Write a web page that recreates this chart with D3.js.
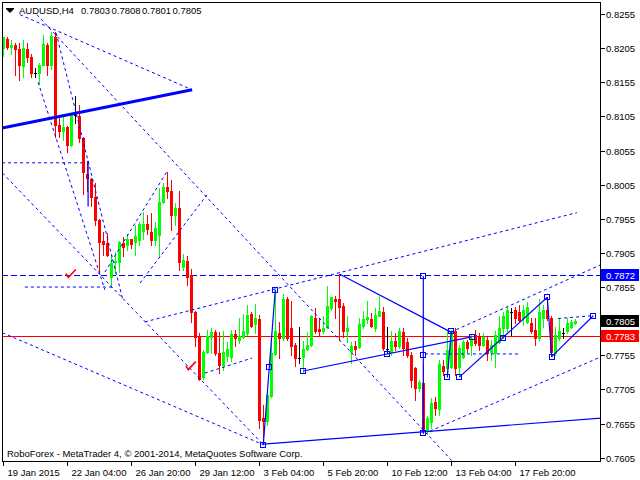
<!DOCTYPE html>
<html><head><meta charset="utf-8">
<script src="https://cdn.jsdelivr.net/npm/d3@7"></script>
<style>body{margin:0;background:#fff}svg{display:block}text{font-family:"Liberation Sans",Arial,sans-serif;white-space:pre}</style>
</head><body>
<svg id="c" width="640" height="480"></svg>
<script>
const openP=[.8205,.8219,.8206,.8210,.8204,.8179,.8204,.8192,.8169,.8169,.8181,.8210,.8180,.8222,.8092,.8083,.8090,.8063,.8107,.8106,.8074,.8020,.8014,.7987,.7953,.7922,.7919,.7870,.7891,.7892,.7919,.7916,.7925,.7921,.7924,.7937,.7947,.7935,.7924,.7931,.7980,.8002,.7996,.7960,.7971,.7885,.7893,.7873,.7818,.7784,.7723,.7760,.7782,.7789,.7759,.7741,.7754,.7753,.7786,.7778,.7782,.7787,.7815,.7801,.7808,.7663,.7659,.7695,.7757,.7788,.7781,.7838,.7795,.7770,.7751,.7752,.7764,.7770,.7809,.7793,.7790,.7796,.7825,.7838,.7838,.7827,.7791,.7760,.7769,.7767,.7798,.7808,.7808,.7795,.7813,.7818,.7764,.7760,.7776,.7768,.7789,.7775,.7756,.7736,.7707,.7714,.7646,.7658,.7687,.7677,.7739,.7736,.7738,.7790,.7738,.7753,.7774,.7770,.7785,.7782,.7770,.7777,.7760,.7758,.7775,.7795,.7795,.7819,.7821,.7819,.7809,.7804,.7802,.7792,.7780,.7809,.7821,.7809,.7758,.7780,.7787,.7790,.7797,.7803];
const highP=[.8222,.8222,.8217,.8212,.8212,.8217,.8212,.8197,.8176,.8183,.8224,.8212,.8229,.8229,.8105,.8107,.8091,.8110,.8135,.8122,.8075,.8039,.8015,.8007,.7954,.7936,.7934,.7903,.7907,.7923,.7929,.7932,.7926,.7946,.7951,.7965,.7961,.7963,.7951,.8000,.8007,.8024,.8012,.7978,.7996,.7904,.7900,.7881,.7820,.7788,.7763,.7792,.7795,.7792,.7789,.7790,.7775,.7792,.7792,.7809,.7816,.7829,.7819,.7830,.7814,.7682,.7699,.7773,.7851,.7804,.7845,.7840,.7835,.7773,.7797,.7776,.7789,.7814,.7824,.7808,.7813,.7857,.7841,.7842,.7874,.7831,.7812,.7775,.7776,.7809,.7820,.7834,.7817,.7825,.7842,.7826,.7797,.7790,.7787,.7795,.7795,.7780,.7760,.7738,.7719,.7741,.7666,.7692,.7694,.7748,.7748,.7792,.7792,.7795,.7770,.7777,.7777,.7785,.7792,.7787,.7787,.7782,.7777,.7790,.7812,.7819,.7826,.7824,.7826,.7829,.7829,.7833,.7809,.7809,.7838,.7829,.7840,.7812,.7797,.7809,.7795,.7809,.7807,.7808];
const lowP=[.8194,.8204,.8197,.8166,.8158,.8163,.8185,.8163,.8162,.8152,.8180,.8165,.8175,.8075,.8075,.8070,.8053,.8062,.8095,.8067,.7992,.7995,.7973,.7946,.7875,.7902,.7901,.7855,.7875,.7877,.7900,.7909,.7912,.7902,.7917,.7926,.7932,.7917,.7917,.7900,.7978,.7985,.7939,.7946,.7880,.7880,.7858,.7804,.7769,.7719,.7721,.7759,.7759,.7755,.7729,.7733,.7747,.7746,.7768,.7773,.7780,.7785,.7797,.7787,.7648,.7625,.7653,.7694,.7755,.7751,.7777,.7777,.7755,.7739,.7743,.7731,.7763,.7769,.7787,.7785,.7787,.7795,.7821,.7809,.7777,.7782,.7775,.7743,.7755,.7765,.7795,.7802,.7797,.7790,.7812,.7763,.7758,.7755,.7763,.7765,.7755,.7753,.7709,.7690,.7702,.7641,.7640,.7648,.7668,.7668,.7726,.7723,.7737,.7726,.7724,.7751,.7760,.7755,.7770,.7763,.7768,.7748,.7748,.7738,.7773,.7780,.7790,.7785,.7802,.7804,.7800,.7802,.7787,.7770,.7777,.7797,.7807,.7754,.7755,.7777,.7780,.7787,.7795,.7801];
const closeP=[.8221,.8206,.8210,.8204,.8180,.8205,.8192,.8169,.8169,.8181,.8211,.8181,.8223,.8092,.8083,.8090,.8063,.8107,.8107,.8074,.8024,.8015,.7987,.7953,.7921,.7918,.7902,.7890,.7893,.7921,.7914,.7925,.7918,.7930,.7947,.7947,.7940,.7924,.7941,.7980,.8002,.7996,.7961,.7971,.7892,.7895,.7870,.7818,.7782,.7721,.7760,.7784,.7789,.7758,.7741,.7760,.7764,.7786,.7780,.7784,.7790,.7814,.7798,.7809,.7660,.7659,.7697,.7759,.7790,.7780,.7838,.7781,.7768,.7751,.7751,.7764,.7770,.7812,.7790,.7790,.7795,.7827,.7840,.7835,.7826,.7791,.7795,.7769,.7764,.7801,.7808,.7811,.7798,.7814,.7820,.7765,.7764,.7776,.7768,.7791,.7765,.7755,.7719,.7707,.7716,.7646,.7663,.7685,.7678,.7742,.7732,.7763,.7791,.7736,.7765,.7775,.7765,.7780,.7773,.7770,.7782,.7758,.7770,.7785,.7795,.7812,.7821,.7819,.7809,.7807,.7821,.7826,.7790,.7780,.7819,.7821,.7809,.7760,.7785,.7790,.7787,.7802,.7804,.7805];

const xTickLabels=["19 Jan 2015","22 Jan 04:00","26 Jan 20:00","29 Jan 12:00","3 Feb 04:00","5 Feb 20:00","10 Feb 12:00","13 Feb 04:00","17 Feb 20:00"];
const xTickBars=[0,16,32,48,64,80,96,112,128];
const yTickValues=[0.8255,0.8205,0.8155,0.8105,0.8055,0.8005,0.7955,0.7905,0.7855,0.7805,0.7755,0.7705,0.7655,0.7605];
const symbolLabel="AUDUSD,H4";
const ohlcValues=["0.7803","0.7808","0.7801","0.7805"];
const footer="RoboForex - MetaTrader 4, \u00a9 2001-2014, MetaQuotes Software Corp.";

// analyst drawings: [bar1, price1, bar2, price2]
const dashedLines=[
 [4.2,.8254,47.2,.8144],
 [8.4,.8254,112.4,.7599],
 [8.7,.8155,25.4,.7851],
 [13.2,.8227,29.9,.7836],
 [-0.2,.8022,65,.7624],
 [-0.2,.7788,65,.7624],
 [-0.3,.8037,19.7,.8037],
 [5.4,.7855,27.2,.7855],
 [25.4,.7877,40.9,.8024],
 [34.2,.7861,50.9,.7990],
 [35.4,.7804,143.4,.7964],
 [50.4,.7729,62.2,.7751],
 [105.4,.7757,128.7,.7757],
 [111.9,.7789,149.5,.7888],
 [106.7,.7644,149.5,.7753],
 [138.7,.7809,147.4,.7813]
];
const levelLines=[{price:.7872,color:"#0000ff",dash:"6,3"}];
const solidLines=[
 [65,.7624,68,.7851],
 [65,.7625,149.5,.7663],
 [75,.7732,117.1,.7782],
 [84,.7874,111.9,.7789],
 [105,.7871,105,.7641],
 [111,.7723,112,.7790],
 [114,.7723,136,.7840],
 [136,.7840,137.1,.7753],
 [137.1,.7753,147.5,.7813],
 [21.2,.8040,21.2,.7973]
];
const thickLines=[[-0.3,.8088,47.2,.8144]];
const squares=[[65,.7624],[68,.7851],[66.4,.7738],[75,.7732],[96,.7757],[105,.7871],[105,.7756],[105,.7641],[112,.7790],[111,.7723],[114,.7723],[117.1,.7782],[125,.7781],[136,.7840],[137.1,.7753],[147.5,.7813]];
const checks=[[16.25,.7869],[46.25,.7734]];
const redLine=.7783, bidPrice=.7805;

const svg=d3.select("#c");
const L=2,R=601,T=2,B=462;
const xs=d3.scaleLinear().domain([0,143]).range([3.3,575.3]);
const ys=d3.scaleLinear().domain([0.7605,0.8255]).range([457.7,14]);

svg.append("defs").append("clipPath").attr("id","pc").append("rect").attr("x",L).attr("y",T).attr("width",R-L).attr("height",B-T);
const plot=svg.append("g").attr("clip-path","url(#pc)");

plot.append("line").attr("x1",L).attr("x2",R).attr("y1",Math.round(ys(redLine))+0.5).attr("y2",Math.round(ys(redLine))+0.5).attr("stroke","#ff0000").attr("stroke-width",1);
levelLines.forEach(l=>{const y=Math.round(ys(l.price))+0.5;plot.append("line").attr("x1",L).attr("x2",R).attr("y1",y).attr("y2",y).attr("stroke",l.color).attr("stroke-dasharray",l.dash);});

const idx=d3.range(openP.length);
const cg=plot.append("g");
idx.forEach(i=>{
 const o=openP[i],h=highP[i],l=lowP[i],c=closeP[i];
 const cx=Math.round(xs(i));
 const col=c>o?"#00ff00":(c<o?"#ff0000":"#000000");
 cg.append("line").attr("x1",cx+0.5).attr("x2",cx+0.5).attr("y1",Math.round(ys(h))).attr("y2",Math.round(ys(l))+1).attr("stroke",col);
 if(c===o){
  cg.append("line").attr("x1",cx-1).attr("x2",cx+2).attr("y1",Math.round(ys(o))+0.5).attr("y2",Math.round(ys(o))+0.5).attr("stroke",col);
 } else {
  const y1=Math.round(ys(Math.max(o,c))),y2=Math.round(ys(Math.min(o,c)));
  cg.append("rect").attr("x",cx-1).attr("y",y1).attr("width",3).attr("height",Math.max(1,y2-y1+1)).attr("fill",col);
 }
});

const dg=plot.append("g").attr("fill","none");
dashedLines.forEach(d=>dg.append("line").attr("x1",xs(d[0])).attr("y1",ys(d[1])).attr("x2",xs(d[2])).attr("y2",ys(d[3])).attr("stroke","#0000ff").attr("stroke-dasharray","3,3"));
solidLines.forEach(d=>dg.append("line").attr("x1",xs(d[0])).attr("y1",ys(d[1])).attr("x2",xs(d[2])).attr("y2",ys(d[3])).attr("stroke","#0000ff").attr("stroke-width",1.2));
thickLines.forEach(d=>dg.append("line").attr("x1",xs(d[0])).attr("y1",ys(d[1])).attr("x2",xs(d[2])).attr("y2",ys(d[3])).attr("stroke","#0000ff").attr("stroke-width",3));
squares.forEach(s=>dg.append("rect").attr("x",Math.round(xs(s[0]))-2.5).attr("y",Math.round(ys(s[1]))-2.5).attr("width",5).attr("height",5).attr("stroke","#0000ff").attr("fill","none"));
checks.forEach(s=>{const x=xs(s[0]),y=ys(s[1]);dg.append("path").attr("d",`M${x-2.5},${y-4} L${x},${y} L${x+7.5},${y-8}`).attr("stroke","#ff0000").attr("stroke-width",1.6);});

svg.append("rect").attr("x",L+0.5).attr("y",T+0.5).attr("width",R-L-1).attr("height",B-T-1).attr("fill","none").attr("stroke","#000");
const xa=svg.append("g");
xTickBars.forEach((b,k)=>{const x=Math.round(xs(b))+0.5;
 xa.append("line").attr("x1",x).attr("x2",x).attr("y1",B).attr("y2",B+4).attr("stroke","#000");
 xa.append("text").attr("x",x+4).attr("y",475.5).attr("font-size","9.5px").attr("fill","#000").text(xTickLabels[k]);});
const ya=svg.append("g");
yTickValues.forEach(v=>{const y=Math.round(ys(v))+0.5;
 ya.append("line").attr("x1",R).attr("x2",R+4).attr("y1",y).attr("y2",y).attr("stroke","#000");
 ya.append("text").attr("x",606).attr("y",y+3.5).attr("font-size","9.5px").attr("fill","#000").text(v.toFixed(4));});
function tag(p,bg){const y=ys(p);svg.append("rect").attr("x",601).attr("y",Math.round(y)-6).attr("width",38).attr("height",12).attr("fill",bg);
 svg.append("text").attr("x",606).attr("y",Math.round(y)+3.5).attr("font-size","9.5px").attr("fill","#fff").text(p.toFixed(4));}
tag(levelLines[0].price,"#0000ff");tag(bidPrice,"#000000");tag(redLine,"#ff0000");
svg.append("path").attr("d","M6,9 L14,9 L10,13 Z").attr("fill","#000");
svg.append("rect").attr("x",6).attr("y",8).attr("width",8).attr("height",1).attr("fill","#000");
svg.append("text").attr("x",19).attr("y",14).attr("font-size","9.5px").attr("fill","#000").text(symbolLabel);
ohlcValues.forEach((v,k)=>svg.append("text").attr("x",81+k*30.5).attr("y",14).attr("font-size","9.5px").attr("fill","#000").text(v));
svg.append("text").attr("x",7).attr("y",457).attr("font-size","9.5px").attr("fill","#000").text(footer);
</script></body></html>
